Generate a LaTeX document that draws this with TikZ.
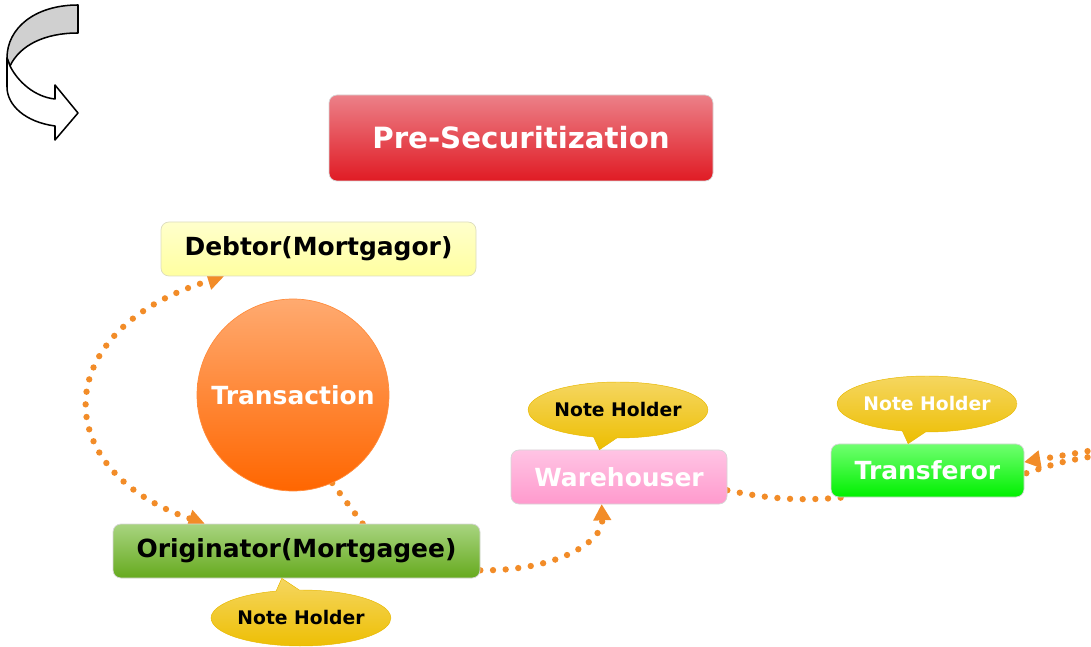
\documentclass[tikz,border=0pt]{standalone}
\usepackage{fontspec}
\setsansfont{DejaVu Sans}
\usepackage{tikz}
\usetikzlibrary{arrows.meta,backgrounds,calc,shapes.geometric,shapes.callouts}
\definecolor{dotorange}{HTML}{F28C28}
\definecolor{boxline}{HTML}{D6D6D6}
\definecolor{redtop}{HTML}{EC8088}
\definecolor{redbot}{HTML}{E01B24}
\definecolor{yellowtop}{HTML}{FFFFCC}
\definecolor{yellowbot}{HTML}{FFFFA0}
\definecolor{orangetop}{HTML}{FFAA70}
\definecolor{orangebot}{HTML}{FF6600}
\definecolor{greentop}{HTML}{A8D480}
\definecolor{greenbot}{HTML}{66AA1E}
\definecolor{pinktop}{HTML}{FFC4E4}
\definecolor{pinkbot}{HTML}{FF9ACD}
\definecolor{limetop}{HTML}{70FF70}
\definecolor{limebot}{HTML}{00F000}
\definecolor{notetop}{HTML}{F5D660}
\definecolor{notebot}{HTML}{EDBE00}
\definecolor{noteline}{HTML}{E8B800}
\tikzset{
  box/.style={draw=boxline, line width=0.6pt, rounded corners=0.24cm, inner sep=0pt,
    font=\sffamily\bfseries\fontsize{21.3}{24}\selectfont},
  note/.style={ellipse callout, draw=noteline, line width=0.4pt, top color=notetop,
    middle color=notebot, bottom color=notebot, minimum width=5.28cm, minimum height=1.68cm,
    inner sep=0pt, font=\sffamily\bfseries\fontsize{16}{18}\selectfont},
  flow/.style={dotorange, line width=0.19cm, line cap=round, dash pattern=on 0pt off 0.38cm,
    >={Triangle[length=0.48cm,width=0.55cm,line width=0pt]}}
}
\begin{document}
\begin{tikzpicture}
\useasboundingbox (0,0) rectangle (32.73,-19.41);
% curved arrow
\draw[black, line width=1.3pt, fill={rgb,255:red,208;green,208;blue,208}, line join=round] (2.34,-0.15) .. controls (1.05,-0.15) and (0.21,-0.84) .. (0.21,-1.74) -- (0.3,-1.98) .. controls (0.6,-1.35) and (1.35,-0.99) .. (2.34,-0.99) -- cycle;
\draw[black, line width=1.3pt, fill=white, line join=round] (0.21,-1.74) -- (0.21,-2.61) .. controls (0.21,-3.15) and (0.75,-3.66) .. (1.65,-3.78) -- (1.65,-4.2) -- (2.34,-3.39) -- (1.65,-2.55) -- (1.65,-2.97) .. controls (1.05,-2.91) and (0.54,-2.46) .. (0.3,-1.98) -- cycle;
% nodes
\node[box, top color=redtop, middle color=redbot, bottom color=redbot, text=white, minimum width=11.52cm, minimum height=2.58cm,
  font=\sffamily\bfseries\fontsize{25}{28}\selectfont] (title) at (15.63cm,-4.14cm) {Pre-Securitization};
\node[box, draw={rgb,255:red,220;green,220;blue,190}, top color=yellowtop, bottom color=yellowbot, minimum width=9.45cm, minimum height=1.62cm] (debtor) at (9.555cm,-7.47cm) {Debtor(Mortgagor)};
\node[circle, draw={rgb,255:red,255;green,140;blue,60}, line width=0.6pt, top color=orangetop, middle color=orangebot, bottom color=orangebot, text=white, inner sep=0pt, minimum size=5.76cm,
  font=\sffamily\bfseries\fontsize{21.3}{24}\selectfont] (trans) at (8.79cm,-11.85cm) {Transaction};
\node[box, top color=greentop, middle color=greenbot, bottom color=greenbot, minimum width=11.01cm, minimum height=1.62cm] (orig) at (8.895cm,-16.53cm) {Originator(Mortgagee)};
\node[box, top color=pinktop, middle color=pinkbot, bottom color=pinkbot, text=white, minimum width=6.48cm, minimum height=1.62cm] (ware) at (18.57cm,-14.31cm) {Warehouser};
\node[box, top color=limetop, middle color=limebot, bottom color=limebot, text=white, minimum width=5.79cm, minimum height=1.59cm] (tfr) at (27.825cm,-14.115cm) {Transferor};
\node[note, callout absolute pointer={($(orig.south west)!0.46!(orig.south east)$)}] (nhorig) at (9.03cm,-18.54cm) {Note Holder};
\node[note, callout absolute pointer={($(ware.north west)!0.41!(ware.north east)$)}] (nhware) at (18.54cm,-12.3cm) {Note Holder};
\node[note, text=white, callout absolute pointer={($(tfr.north west)!0.4!(tfr.north east)$)}] (nhtfr) at (27.81cm,-12.12cm) {Note Holder};
% connectors
\coordinate (ina) at (33.0cm,-13.47cm);
\coordinate (inb) at (33.0cm,-13.65cm);
\begin{scope}[on background layer]
\draw[flow,<->] ($(orig.north west)!0.25!(orig.north east)$) .. controls (1.44cm,-14.1cm) and (1.44cm,-9.9cm) .. ($(debtor.south west)!0.2!(debtor.south east)$);
\draw[flow] (trans.-66) -- ($(orig.north west)!0.68!(orig.north east)$);
\draw[flow,->] (orig.-6) .. controls (16.8cm,-17.13cm) and (18.09cm,-16.2cm) .. ($(ware.south west)!0.42!(ware.south east)$);
\draw[flow] (ware.-7) to[bend right=8] (tfr.-162);
\draw[flow,->] (ina) -- (tfr.5);
\draw[flow] (inb) .. controls (31.8cm,-13.86cm) .. (tfr.-2);
\end{scope}
\end{tikzpicture}
\end{document}
